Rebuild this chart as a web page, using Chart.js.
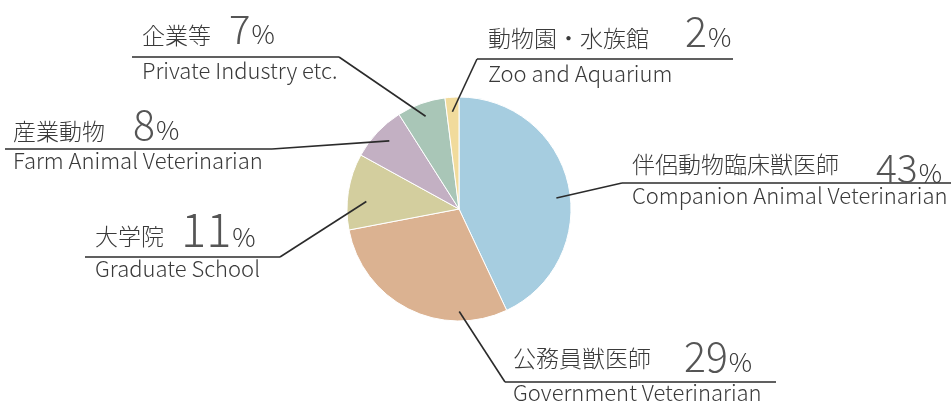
<!DOCTYPE html>
<html>
<head>
<meta charset="utf-8">
<script src="https://cdn.jsdelivr.net/npm/chart.js@4/dist/chart.umd.min.js"></script>
<style>
  html, body { margin: 0; padding: 0; background: #fff; }
  #wrap { width: 951px; height: 401px; }
</style>
</head>
<body>
<div id="wrap"><canvas id="chart" width="951" height="401"></canvas></div>
<script>
// 進路別の割合
const labelsJa = ['伴侶動物臨床獣医師', '公務員獣医師', '大学院', '産業動物', '企業等', '動物園・水族館'];
const labelsEn = ['Companion Animal Veterinarian', 'Government Veterinarian', 'Graduate School', 'Farm Animal Veterinarian', 'Private Industry etc.', 'Zoo and Aquarium'];
const shares = [43, 29, 11, 8, 7, 2];
const colors = ['#a6cde0', '#dbb291', '#d3ce9e', '#c3b0c3', '#a9c6b7', '#f1db9c'];

// callout boxes: text left/baselines, number x/size/baseline shift,
// underline, which end joins the leader, and where on the slice the leader starts
const callouts = [
  { tx: 632, ty: 173, nx: 876, ns: 39, nd: 10,  ly: 183, x1: 622, x2: 951, ey: 204, join: 'left',  f: 0.54, r: 0.875 },
  { tx: 513, ty: 367, nx: 684, ns: 41, nd: 5,   ly: 382, x1: 505, x2: 776, ey: 401, join: 'left',  f: 0.24, r: 0.915 },
  { tx: 95,  ty: 245, nx: 181, ns: 47, nd: 1.5, ly: 257, x1: 85,  x2: 280, ey: 277, join: 'right', f: 0.39, r: 0.83 },
  { tx: 13,  ty: 140, nx: 133, ns: 41, nd: 0,   ly: 149, x1: 5,   x2: 272, ey: 169, join: 'right', f: 0.54, r: 0.87 },
  { tx: 142, ty: 44,  nx: 229, ns: 40, nd: 0,   ly: 57,  x1: 132, x2: 339, ey: 79,  join: 'right', f: 0.5,  r: 0.88 },
  { tx: 488, ty: 47,  nx: 685, ns: 41, nd: 0,   ly: 59,  x1: 477, x2: 733, ey: 82,  join: 'left',  f: 0.46, r: 0.87 }
];

const FONT = '"Noto Sans CJK JP", "Noto Sans", sans-serif';

const calloutPlugin = {
  id: 'callouts',
  afterDraw(chart) {
    const ctx = chart.ctx;
    const arcs = chart.getDatasetMeta(0).data;
    ctx.save();
    arcs.forEach((arc, i) => {
      const c = callouts[i];
      const p = arc.getProps(['x', 'y', 'startAngle', 'endAngle', 'outerRadius'], true);
      const a = p.startAngle + (p.endAngle - p.startAngle) * c.f;
      const ax = p.x + Math.cos(a) * p.outerRadius * c.r;
      const ay = p.y + Math.sin(a) * p.outerRadius * c.r;
      const jx = c.join === 'left' ? c.x1 : c.x2;

      // leader + underline
      ctx.strokeStyle = '#2b2b2b';
      ctx.lineWidth = 1.6;
      ctx.beginPath();
      ctx.moveTo(ax, ay);
      ctx.lineTo(jx, c.ly);
      ctx.stroke();
      ctx.beginPath();
      ctx.moveTo(c.x1, c.ly);
      ctx.lineTo(c.x2, c.ly);
      ctx.stroke();

      // japanese label, big number, percent sign right after it
      ctx.textBaseline = 'alphabetic';
      ctx.textAlign = 'left';
      ctx.fillStyle = '#3a3a3a';
      ctx.font = '300 23px ' + FONT;
      ctx.fillText(labelsJa[i], c.tx, c.ty);
      const num = String(shares[i]);
      ctx.fillStyle = '#555';
      ctx.font = '300 ' + c.ns + 'px ' + FONT;
      ctx.fillText(num, c.nx, c.ty + c.nd);
      const px = c.nx + ctx.measureText(num).width + 1;
      ctx.fillStyle = '#3a3a3a';
      ctx.font = '300 26px ' + FONT;
      ctx.fillText('%', px, c.ty + c.nd);

      // english label
      ctx.fillStyle = '#3a3a3a';
      ctx.font = '300 22px ' + FONT;
      ctx.fillText(labelsEn[i], c.tx, c.ey);
    });
    ctx.restore();
  }
};

new Chart(document.getElementById('chart'), {
  type: 'pie',
  data: {
    labels: labelsJa,
    datasets: [{
      data: shares,
      backgroundColor: colors,
      borderColor: '#ffffff',
      borderWidth: 1
    }]
  },
  options: {
    responsive: false,
    animation: false,
    layout: { padding: { left: 346.5, right: 379.5, top: 96.5, bottom: 79.5 } },
    plugins: {
      legend: { display: false },
      tooltip: { enabled: false }
    }
  },
  plugins: [calloutPlugin]
});
</script>
</body>
</html>
